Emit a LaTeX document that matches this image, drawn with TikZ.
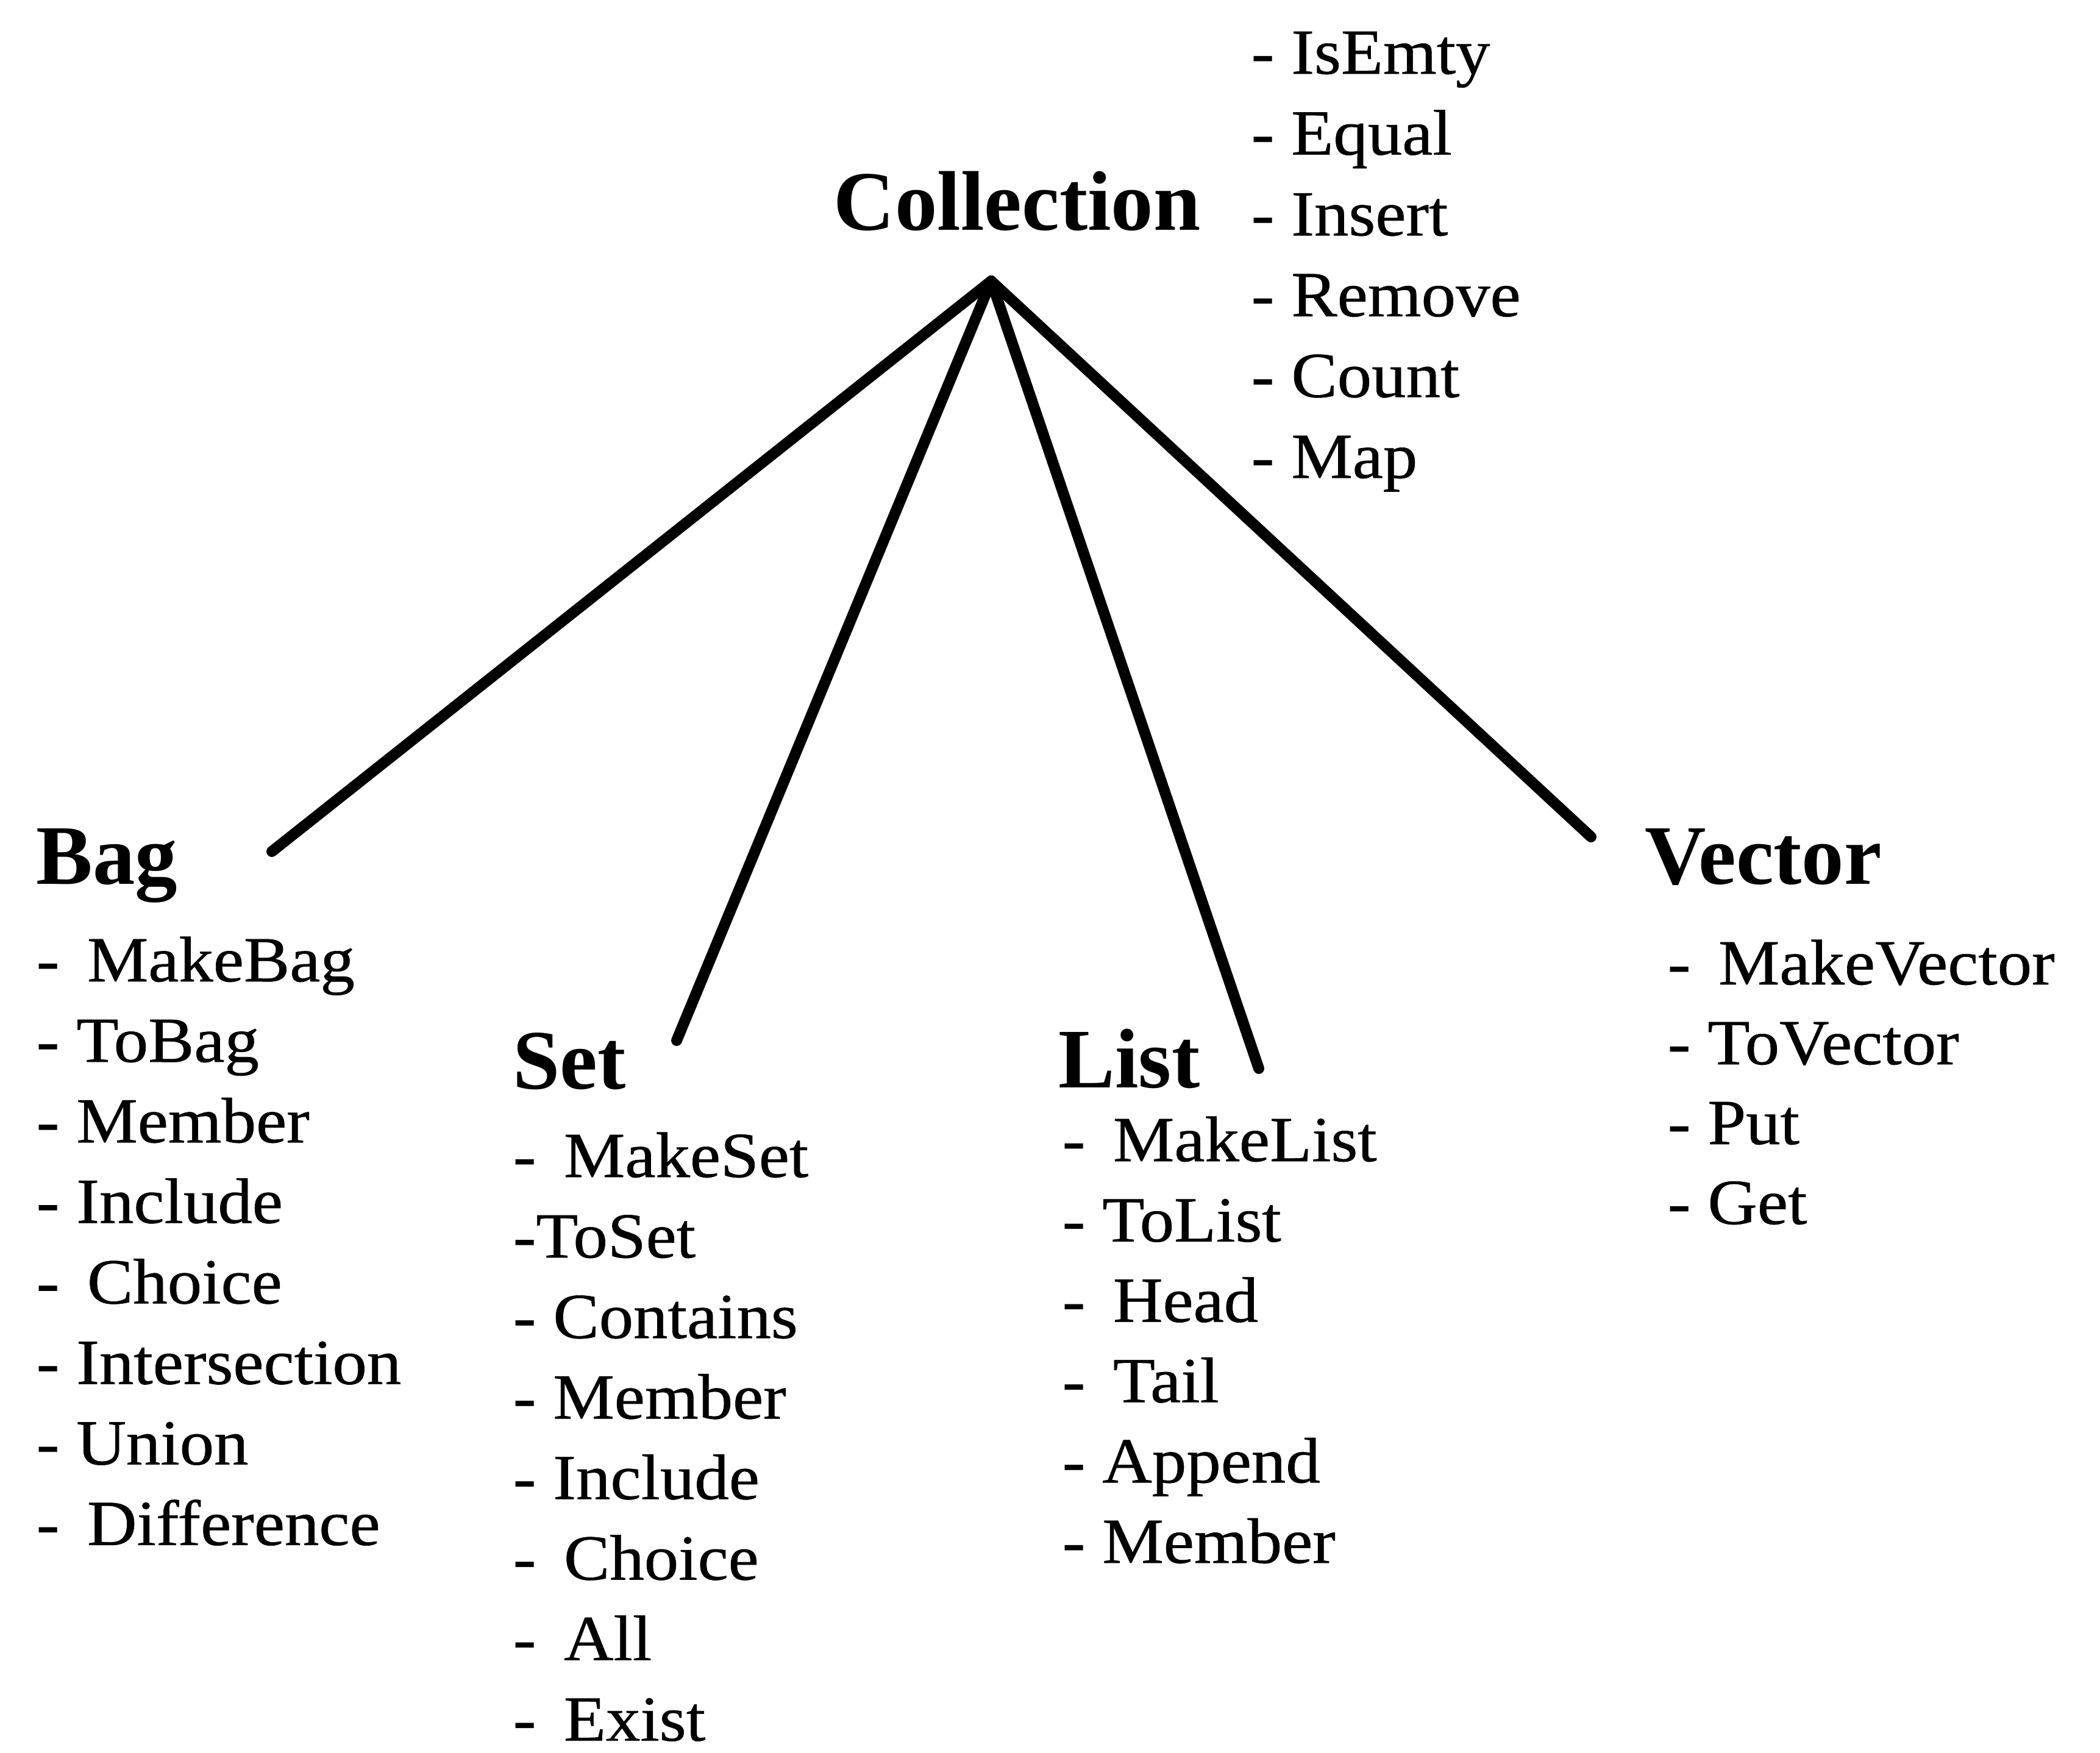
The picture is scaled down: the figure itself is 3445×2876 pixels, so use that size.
\documentclass[tikz,border=0pt]{standalone}
\usepackage{fontspec}
\setmainfont{Liberation Serif}[FakeStretch=1.07,FakeBold=0.6]
\newfontfamily\hdfont{Liberation Serif}
\begin{document}
\begin{tikzpicture}[x=0.01cm,y=-0.01cm,
  item/.style={inner sep=0pt,anchor=base west,font=\fontsize{30}{36}\selectfont},
  head/.style={inner sep=0pt,anchor=base west,font=\hdfont\bfseries\fontsize{39.5}{47}\selectfont},
  branch/.style={line width=5.1pt,line cap=round}]
\useasboundingbox (0,0) rectangle (3445,2876);
% headings
\node[head] (coll) at (1367,378) {Collection};
\node[head] (bag) at (59,1450) {Bag};
\node[head] (set) at (841,1786) {Set};
\node[head] (list) at (1736,1784) {List};
\node[head] (vec) at (2698,1450) {Vector};
% connector ends
\coordinate (apex) at (1626,461);
\coordinate (bagend) at (446,1397);
\coordinate (setend) at (1110,1707);
\coordinate (listend) at (2065,1753);
\coordinate (vecend) at (2610,1373);
\draw[branch] (apex) -- (bagend);
\draw[branch] (apex) -- (setend);
\draw[branch] (apex) -- (listend);
\draw[branch] (apex) -- (vecend);
% method lists
\foreach \t [count=\i] in {- IsEmty,- Equal,- Insert,- Remove,- Count,- Map}
  \node[item] (c\i) at (2052,{121+(\i-1)*132.6}) {\t};
\foreach \t [count=\i] in {- \,MakeBag,- ToBag,- Member,- Include,- \,Choice,- Intersection,- Union,- \,Difference}
  \node[item] (b\i) at (59,{1610+(\i-1)*132.1}) {\t};
\foreach \t [count=\i] in {- \,MakeSet,-ToSet,- Contains,- Member,- Include,- \,Choice,- \,All,- \,Exist}
  \node[item] (s\i) at (841,{1931+(\i-1)*132.1}) {\t};
\foreach \t [count=\i] in {- \,MakeList,- ToList,- \,Head,- \,Tail,- Append,- Member}
  \node[item] (l\i) at (1742,{1905+(\i-1)*131.8}) {\t};
\foreach \t [count=\i] in {- \,MakeVector,- ToVector,- Put,- Get}
  \node[item] (v\i) at (2735,{1615+(\i-1)*131}) {\t};
\end{tikzpicture}
\end{document}
